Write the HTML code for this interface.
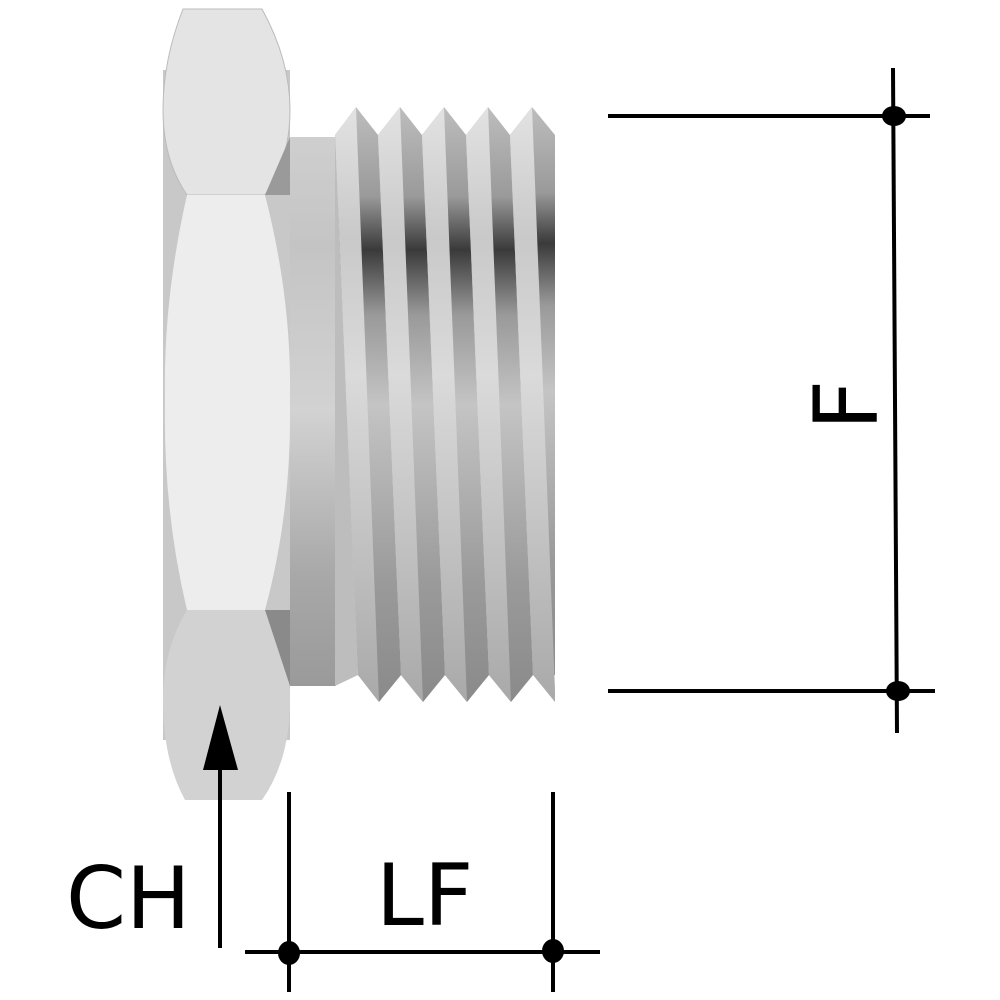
<!DOCTYPE html>
<html><head><meta charset="utf-8"><style>html,body{margin:0;padding:0;background:#fff}svg{display:block}</style></head>
<body>
<svg width="1000" height="1000" viewBox="0 0 1000 1000" xmlns="http://www.w3.org/2000/svg">
<defs>
<linearGradient id="col" x1="0" y1="0" x2="0" y2="1">
<stop offset="0" stop-color="#cfcfcf"/><stop offset="0.2" stop-color="#c4c4c4"/><stop offset="0.5" stop-color="#d2d2d2"/><stop offset="0.8" stop-color="#a8a8a8"/><stop offset="1" stop-color="#9a9a9a"/></linearGradient>
<linearGradient id="lt" x1="0" y1="0" x2="0" y2="1">
<stop offset="0" stop-color="#e2e2e2"/><stop offset="0.22" stop-color="#c9c9c9"/><stop offset="0.45" stop-color="#dadada"/><stop offset="0.75" stop-color="#c0c0c0"/><stop offset="1" stop-color="#a9a9a9"/></linearGradient>
<linearGradient id="dk" x1="0" y1="0" x2="0" y2="1">
<stop offset="0" stop-color="#bdbdbd"/><stop offset="0.15" stop-color="#9a9a9a"/><stop offset="0.24" stop-color="#3a3a3a"/><stop offset="0.35" stop-color="#9a9a9a"/><stop offset="0.5" stop-color="#c4c4c4"/><stop offset="0.8" stop-color="#9a9a9a"/><stop offset="1" stop-color="#8a8a8a"/></linearGradient>
</defs>
<!-- hex body -->
<rect x="163" y="70" width="127" height="670" fill="#c8c8c8"/>
<path d="M183 9 L262 9 Q290 60 290 110 Q290 160 265 195 L187 195 Q163 160 163 110 Q163 60 183 9 Z" fill="#e4e4e4" stroke="#bbb" stroke-width="1"/>
<path d="M187 195 L265 195 Q292 300 290 400 Q292 510 265 610 L187 610 Q163 510 165 400 Q163 300 187 195 Z" fill="#ededed"/>
<path d="M187 610 L265 610 Q290 650 290 700 Q290 760 262 800 L185 800 Q163 760 163 700 Q163 650 187 610 Z" fill="#d2d2d2"/>
<!-- collar -->
<rect x="290" y="137" width="46" height="549" fill="url(#col)"/>
<polygon points="265,195 290,137 290,195" fill="#9a9a9a"/>
<polygon points="265,610 290,610 290,686" fill="#8a8a8a"/>
<!-- threads -->
<g>
<polygon points="335,135 356,107 378,135 401,675 379,702 358,675" fill="url(#dk)"/>
<polygon points="335,135 356,107 379,702 358,675" fill="url(#lt)"/>
<polygon points="378,135 400,107 422,135 445,675 423,702 401,675" fill="url(#dk)"/>
<polygon points="378,135 400,107 423,702 401,675" fill="url(#lt)"/>
<polygon points="422,135 444,107 466,135 489,675 467,702 445,675" fill="url(#dk)"/>
<polygon points="422,135 444,107 467,702 445,675" fill="url(#lt)"/>
<polygon points="466,135 488,107 510,135 533,675 511,702 489,675" fill="url(#dk)"/>
<polygon points="466,135 488,107 511,702 489,675" fill="url(#lt)"/>
<polygon points="510,135 532,107 555,135 555,675 533,675" fill="url(#dk)"/>
<polygon points="510,135 532,107 555,690 555,702 533,675" fill="url(#lt)"/>
<polygon points="335,135 358,675 335,686" fill="#bdbdbd"/>
</g>
<!-- dimensions -->
<g stroke="#000" stroke-width="4" fill="none">
<line x1="608" y1="116" x2="930" y2="116"/>
<line x1="608" y1="691" x2="935" y2="691"/>
<line x1="893" y1="68" x2="897" y2="733"/>
<line x1="289" y1="792" x2="289" y2="992"/>
<line x1="553" y1="792" x2="553" y2="992"/>
<line x1="245" y1="952" x2="600" y2="952"/>
<line x1="220" y1="765" x2="220" y2="948"/>
</g>
<g fill="#000">
<ellipse cx="894" cy="116" rx="12" ry="10"/>
<ellipse cx="898" cy="691" rx="12" ry="10"/>
<ellipse cx="289" cy="953" rx="11" ry="12"/>
<ellipse cx="553" cy="951" rx="11" ry="12"/>
<polygon points="220,705 203,770 238,770"/>
</g>
<g font-family="DejaVu Sans, Liberation Sans, sans-serif" fill="#000">
<text x="66" y="928" font-size="86">CH</text>
<text x="376" y="925" font-size="86">LF</text>
<text transform="translate(877,405) rotate(-90)" text-anchor="middle" font-size="88">F</text>
</g>
</svg>
</body></html>
